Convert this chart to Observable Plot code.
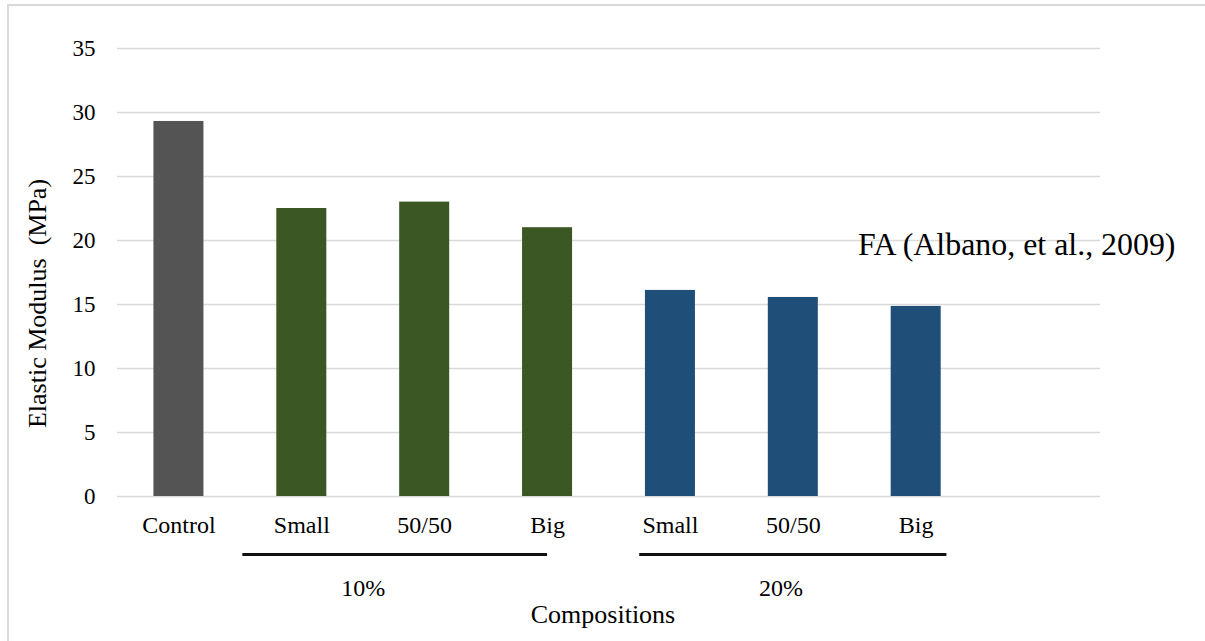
<!DOCTYPE html>
<html>
<head>
<meta charset="utf-8">
<script src="https://cdn.jsdelivr.net/npm/d3@7"></script>
<script src="https://cdn.jsdelivr.net/npm/@observablehq/plot@0.6"></script>
<style>
  html, body { margin: 0; padding: 0; background: #fff; }
  #wrap { position: relative; width: 1205px; height: 641px; overflow: hidden; }
  #border { position: absolute; left: 7px; top: 4px; width: 1210px; height: 650px;
            border-top: 2px solid #d9d9d9; border-left: 2px solid #d9d9d9; box-sizing: border-box; }
  svg { position: absolute; left: 0; top: 0; }
</style>
</head>
<body>
<div id="wrap"><div id="border"></div></div>
<script>
// Category labels (one per slot; last slot left empty as in the reference)
const categories = ["Control", "Small", "50/50", "Big", "Small", "50/50", "Big"];
const groupOf = ["Control", "10%", "10%", "10%", "20%", "20%", "20%"];
const values = [29.3, 22.5, 23.0, 21.0, 16.1, 15.55, 14.85];
const yTicks = [0, 5, 10, 15, 20, 25, 30, 35];
const slotCount = 8;

// Group spans, in category-slot units
const groupNames = ["10%", "20%"];
const groupFrom = [1.02, 4.25];
const groupTo = [3.5, 6.75];
const groupLabelAt = [2.0, 5.4];

const colors = { "Control": "#545454", "10%": "#3a5724", "20%": "#1f4e79" };
const halfBar = 0.2035;

const data = categories.map((c, i) => ({ i, label: c, group: groupOf[i], value: values[i] }));
const groups = groupNames.map((g, k) => ({ name: g, from: groupFrom[k], to: groupTo[k], at: groupLabelAt[k] }));

const font = "'Liberation Serif', 'Times New Roman', serif";

const chart = Plot.plot({
  width: 1205,
  height: 641,
  marginLeft: 117,
  marginRight: 105,
  marginTop: 48,
  marginBottom: 145,
  style: { fontFamily: font, background: "transparent", overflow: "visible" },
  x: { type: "linear", domain: [0, slotCount] },
  y: { domain: [0, 35] },
  marks: [
    Plot.gridY(yTicks, { stroke: "#d9d9d9", strokeOpacity: 1, strokeWidth: 1.6 }),
    Plot.rectY(data, {
      x1: d => d.i + 0.5 - halfBar,
      x2: d => d.i + 0.5 + halfBar,
      y1: 0,
      y2: "value",
      fill: d => colors[d.group]
    }),
    Plot.axisY(yTicks, {
      tickSize: 0, tickPadding: 22, fontSize: 23, label: null, fill: "#000"
    }),
    Plot.axisX(data.map(d => d.i + 0.5), {
      tickSize: 0, tickPadding: 19, fontSize: 24, label: null, fill: "#000",
      tickFormat: v => categories[Math.floor(v)]
    }),
    Plot.ruleY(groups, { y: 0, x1: "from", x2: "to", dy: 58, stroke: "#111", strokeWidth: 3.2 }),
    Plot.text(groups, { x: "at", y: 0, text: "name", dy: 92, fontSize: 24, fill: "#000" }),
    Plot.text(["Elastic Modulus  (MPa)"], {
      frameAnchor: "left", textAnchor: "middle", lineAnchor: "middle",
      rotate: -90, dx: -80, dy: 31, fontSize: 26, fill: "#000"
    }),
    Plot.text(["Compositions"], {
      frameAnchor: "bottom", dx: -6, dy: 126, fontSize: 26, fill: "#000"
    }),
    Plot.text(["FA (Albano, et al., 2009)"], {
      frameAnchor: "top-right", textAnchor: "end", dx: 75, dy: 184, fontSize: 31.9, fill: "#000"
    })
  ]
});
document.getElementById("wrap").appendChild(chart);
</script>
</body>
</html>
